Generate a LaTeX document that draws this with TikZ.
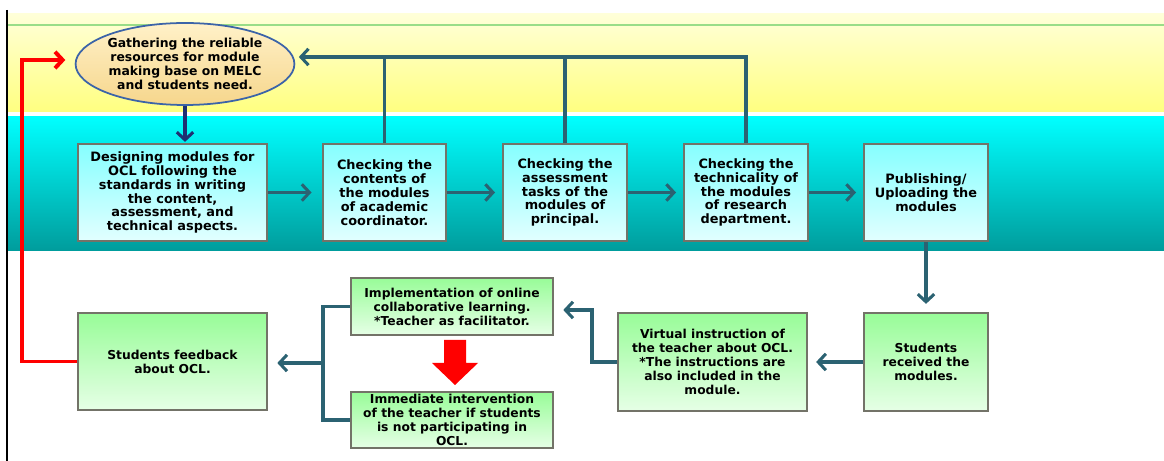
\documentclass[tikz,border=0pt]{standalone}
\usepackage{fontspec}
\setmainfont{DejaVu Sans}
\usetikzlibrary{arrows.meta,shapes.geometric}
\definecolor{conncol}{HTML}{2B6272}
\definecolor{navycol}{HTML}{1F2F72}
\definecolor{boxgray}{HTML}{737368}
\definecolor{cyantop}{HTML}{85FFFF}
\definecolor{cyanbot}{HTML}{E2FFFF}
\definecolor{greentop}{HTML}{98FC98}
\definecolor{greenbot}{HTML}{E6FFE6}
\definecolor{yeltop}{HTML}{FFFFD8}
\definecolor{yelbot}{HTML}{FFFF80}
\definecolor{bandtop}{HTML}{00FFFF}
\definecolor{bandbot}{HTML}{009C9C}
\definecolor{gline}{HTML}{99DD88}
\definecolor{elltop}{HTML}{FFF1C8}
\definecolor{ellbot}{HTML}{F6D68C}
\definecolor{ellborder}{HTML}{3C64A8}
\begin{document}
\begin{tikzpicture}[x=0.03cm,y=-0.03cm,
  font=\fontsize{10.6}{11.9}\selectfont\bfseries,
  tip/.style={-{Straight Barb[length=6.5pt,width=14pt]}},
  conn/.style={draw=conncol,line width=2.6pt},
  topbox/.style={draw=boxgray,line width=1.6pt,top color=cyantop,bottom color=cyanbot,align=center,inner sep=1pt,minimum height=2.91cm,font=\fontsize{11}{11.9}\selectfont\bfseries},
  botbox/.style={draw=boxgray,line width=1.6pt,top color=greentop,bottom color=greenbot,align=center,inner sep=1pt,font=\fontsize{10.5}{11.9}\selectfont\bfseries}]
\useasboundingbox (0,0) rectangle (1164,461);
\fill[white] (0,0) rectangle (1164,461);
% bands
\shade[top color=yeltop,bottom color=yelbot] (7,14) rectangle (1164,112);
\draw[gline,line width=1pt] (7,25) -- (1164,25);
\shade[top color=bandtop,bottom color=bandbot] (7,117) rectangle (1164,251);
\draw[black,line width=1.1pt] (7,10) -- (7,461);
% nodes
\node[ellipse,draw=ellborder,line width=1.5pt,top color=elltop,bottom color=ellbot,minimum width=6.42cm,minimum height=2.46cm,inner sep=0pt,align=center] (ell) at (185,64)
  {Gathering the reliable\\resources for module\\making base on MELC\\and students need.};
\node[topbox,minimum width=5.67cm] (b1) at (172.5,192.5)
  {Designing modules for\\OCL following the\\standards in writing\\the content,\\assessment, and\\technical aspects.};
\node[topbox,minimum width=3.69cm] (b2) at (384.5,192.5)
  {Checking the\\contents of\\the modules\\of academic\\coordinator.};
\node[topbox,minimum width=3.72cm] (b3) at (565,192.5)
  {Checking the\\assessment\\tasks of the\\modules of\\principal.};
\node[topbox,minimum width=3.72cm] (b4) at (746,192.5)
  {Checking the\\technicality of\\the modules\\of research\\department.};
\node[topbox,minimum width=3.72cm] (b5) at (926,192.5)
  {Publishing/\\Uploading the\\modules};
\node[botbox,minimum width=3.72cm,minimum height=2.94cm] (rec) at (926,362)
  {Students\\received the\\modules.};
\node[botbox,minimum width=5.67cm,minimum height=2.94cm] (virt) at (712.5,362)
  {Virtual instruction of\\the teacher about OCL.\\*The instructions are\\also included in the\\module.};
\node[botbox,minimum width=6.06cm,minimum height=1.71cm] (impl) at (452,306.5)
  {Implementation of online\\collaborative learning.\\*Teacher as facilitator.};
\node[botbox,minimum width=6.06cm,minimum height=1.68cm] (interv) at (452,420)
  {Immediate intervention\\of the teacher if students\\is not participating in\\OCL.};
\node[botbox,minimum width=5.67cm,minimum height=2.91cm] (fb) at (172.5,361.5)
  {Students feedback\\about OCL.};
% helper coordinates
\coordinate (toprow) at (0,57);
\coordinate (e1) at (592,310);
\coordinate (br) at (323,363);
\coordinate (r1) at (22,60);
% connectors top row
\draw[conn,tip,shorten >=9pt] (b1.east) -- (b2.west);
\draw[conn,tip,shorten >=6pt] (b2.east) -- (b3.west);
\draw[conn,tip,shorten >=6pt] (b3.east) -- (b4.west);
\draw[conn,tip,shorten >=6pt] (b4.east) -- (b5.west);
\draw[conn] (b2.north) -- (b2.north |- toprow);
\draw[conn] (b3.north) -- (b3.north |- toprow);
\draw[conn,tip,shorten >=3pt] (b4.north) -- (b4.north |- toprow) -- (ell.east |- toprow);
\draw[draw=navycol,line width=2.6pt,tip,shorten >=1pt] (ell.south) -- (ell.south |- b1.north);
% down and bottom row
\draw[conn,tip,shorten >=7pt] (b5.south) -- (rec.north);
\draw[conn,tip,shorten >=7pt] (rec.west) -- (virt.east);
\draw[conn,tip,shorten >=8pt] (virt.west) -| (e1) -- (e1 -| impl.east);
\draw[conn] (impl.west) -| (br) |- (interv.west);
\draw[conn,tip,shorten >=8pt] (br) -- (br -| fb.east);
% red block arrow
\fill[red] (444,340) -- (466,340) -- (466,363) -- (478,363) -- (455,385) -- (432,363) -- (444,363) -- cycle;
% red feedback loop
\draw[red,line width=3.4pt,tip,shorten >=8pt] (fb.west) -| (r1) -- (r1 -| ell.west);
\end{tikzpicture}
\end{document}
